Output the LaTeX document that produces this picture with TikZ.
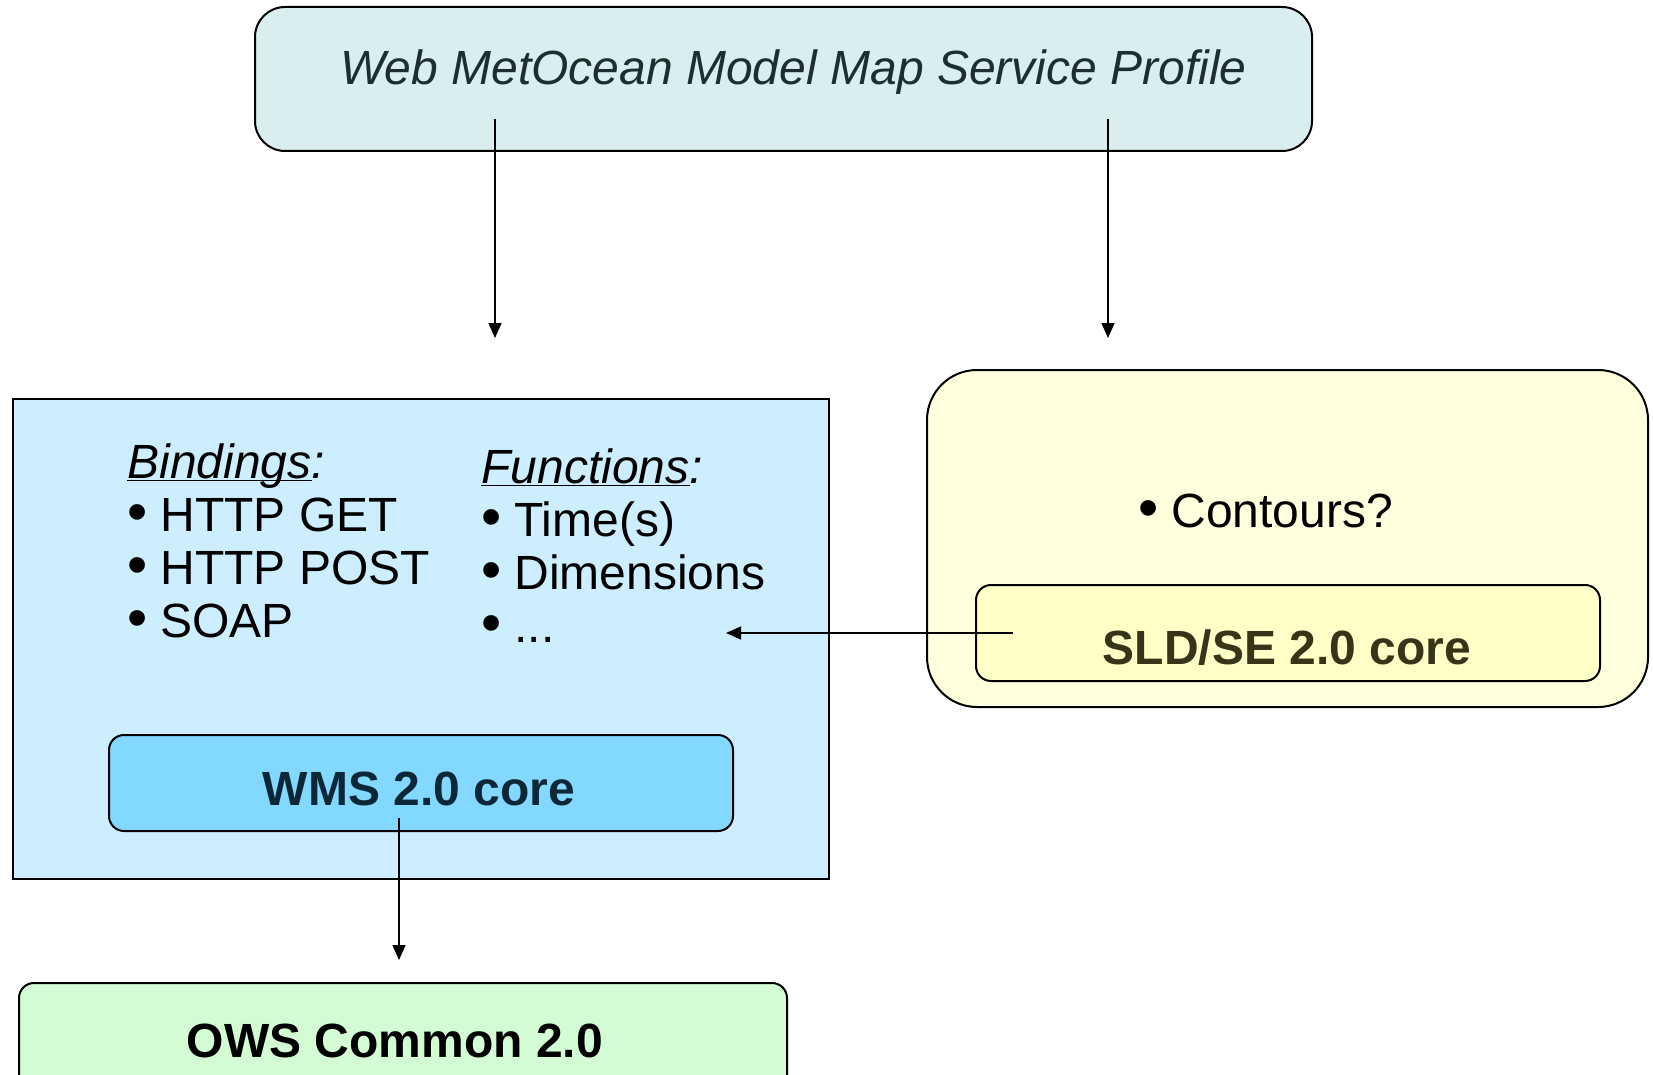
\documentclass[tikz,border=0pt]{standalone}
\usepackage{graphicx}
\usepackage{fontspec}
\setmainfont{Liberation Sans}
\usetikzlibrary{arrows.meta}

\definecolor{profilefill}{RGB}{218,238,240}
\definecolor{profiletext}{RGB}{28,46,50}
\definecolor{wmsfill}{RGB}{204,238,255}
\definecolor{corefill}{RGB}{130,216,255}
\definecolor{coretext}{RGB}{12,40,56}
\definecolor{owsfill}{RGB}{212,252,212}
\definecolor{sldfill}{RGB}{255,255,221}
\definecolor{sldcorefill}{RGB}{255,255,200}
\definecolor{sldtext}{RGB}{56,52,24}

\newcommand{\itm}{\makebox[16.5pt][l]{\scalebox{1.2}{\textbullet}}}
\newcommand{\ulhead}[1]{\underline{\smash{\itshape #1}}{\itshape :}}

\tikzset{
  box/.style={draw, line width=1pt, inner sep=0pt},
  label text/.style={inner sep=0pt, font={\fontsize{24}{26.5}\selectfont}},
  core text/.style={inner sep=0pt, anchor=base, font={\fontsize{24}{26.5}\selectfont\bfseries}},
  link/.style={line width=0.8pt, -{Triangle[length=7.5pt,width=6.5pt]}}
}

\begin{document}
\begin{tikzpicture}[x=0.5pt,y=-0.5pt]
\useasboundingbox (0,0) rectangle (1653,1075);

\node[box, fill=profilefill, rounded corners=15pt, minimum width=528.5pt, minimum height=72pt] (profile) at (783.5,79) {};
\node[box, fill=wmsfill, minimum width=408pt, minimum height=240pt] (wms) at (421,639) {};
\node[box, fill=corefill, rounded corners=7.5pt, minimum width=312pt, minimum height=48pt] (wmscore) at (421,783) {};
\node[box, fill=owsfill, rounded corners=7.5pt, minimum width=384pt, minimum height=56pt] (ows) at (403,1039) {};
\node[box, fill=sldfill, rounded corners=25pt, minimum width=360.5pt, minimum height=168.5pt] (sld) at (1287.5,538.5) {};
\node[box, fill=sldcorefill, rounded corners=7.5pt, minimum width=312pt, minimum height=48pt] (sldcore) at (1288,633) {};

\node[label text, anchor=base west, text=profiletext] (title) at (340,85) {\itshape Web MetOcean Model Map Service Profile};
\node[label text, anchor=base west, align=left] (bindings) at (127,637)
  {\ulhead{Bindings}\\ \itm HTTP GET\\ \itm HTTP POST\\ \itm SOAP};
\node[label text, anchor=base west, align=left] (functions) at (481,642)
  {\ulhead{Functions}\\ \itm Time(s)\\ \itm Dimensions\\ \itm ...};
\node[label text, anchor=base west] (contours) at (1138,527) {\itm Contours?};
\node[core text, text=coretext] (wmslabel) at (419,805) {WMS 2.0 core};
\node[core text, text=sldtext] (sldlabel) at (1287,664) {SLD/SE 2.0 core};
\node[core text] (owslabel) at (395,1057) {OWS Common 2.0};

\coordinate (p1) at (495,119);
\coordinate (p2) at (1108,119);
\coordinate (wmsin) at (495,338);
\coordinate (sldin) at (1108,338);
\coordinate (sldout) at (1013,633);
\coordinate (funcin) at (726,633);
\coordinate (wmsout) at (399,818);
\coordinate (owsin) at (399,960);

\path[]
(p1) edge[link] (wmsin)
(p2) edge[link] (sldin)
(sldout) edge[link] (funcin)
(wmsout) edge[link] (owsin)
;
\end{tikzpicture}
\end{document}
